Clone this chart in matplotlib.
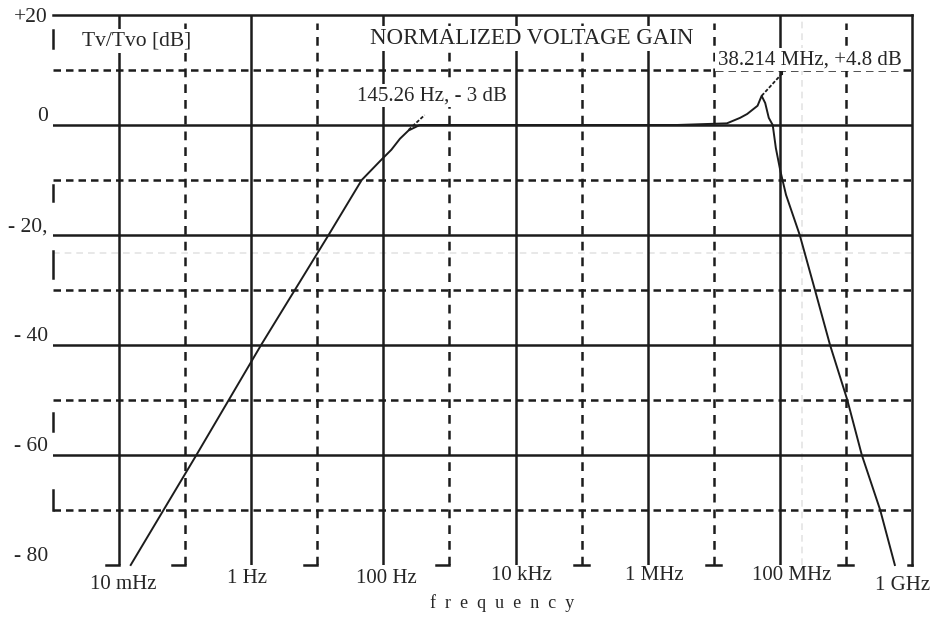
import matplotlib
matplotlib.use('Agg')
import matplotlib.pyplot as plt
from matplotlib.ticker import NullLocator
from matplotlib.transforms import blended_transform_factory

plt.rcParams['font.family'] = ['Liberation Serif', 'DejaVu Serif']

# response curve (Hz, dB)
freq_hz = [0.015, 0.148, 1.41, 14.8, 47, 90, 132, 178, 240, 355, 1e3, 1e4, 1e5,
           2.75e6, 1.58e7, 2.5e7, 3.2e7, 4.6e7, 5.3e7, 6.0e7, 6.8e7, 7.8e7,
           8.7e7, 1.02e8, 1.24e8, 2.0e8, 3.4e8, 5.75e8, 1.05e9, 1.74e9,
           3.3e9, 5.5e9]
gain_db = [-80, -60, -40, -20, -10, -6.5, -4.5, -2.5, -1.0, 0, 0, 0, 0,
           0, 0.3, 1.3, 2.0, 3.5, 5.3, 4.0, 1.3, 0,
           -4.2, -8.4, -12.7, -20, -30, -40, -50, -60,
           -70, -80]

solid_x = [1e-2, 1, 1e2, 1e4, 1e6, 1e8]
dashed_x = [1e-1, 1e1, 1e3, 1e5, 1e7, 1e9]
solid_y = [0, -20, -40, -60]
dashed_y = [10, -10, -30, -50, -70]

y_ticks = [20, 0, -20, -40, -60, -80]
y_labels = ['+20', '0', '- 20,', '- 40', '- 60', '- 80']

x_label_pos = [0.0115, 0.87, 112, 1.23e4, 1.26e6, 1.51e8, 7.1e9]
x_label_db = [-83.6, -82.4, -82.4, -82.0, -82.0, -82.0, -83.8]
x_labels = ['10 mHz', '1 Hz', '100 Hz', '10 kHz', '1 MHz', '100 MHz', '1 GHz']

ink = '#1c1c1c'
txt = '#262626'

fig = plt.figure(figsize=(9.31, 6.18), dpi=100)
ax = fig.add_axes([53 / 931, 1 - 565 / 618, (912 - 53) / 931, (565 - 15) / 618])
ax.set_xscale('log')
ax.set_xlim(1e-3, 1e10)
ax.set_ylim(-80, 20)
ax.xaxis.set_major_locator(NullLocator())
ax.xaxis.set_minor_locator(NullLocator())
ax.yaxis.set_major_locator(NullLocator())
for side in ['left', 'bottom']:
    ax.spines[side].set_visible(False)
for side in ['top', 'right']:
    ax.spines[side].set_linewidth(1.8)
    ax.spines[side].set_color(ink)

# faint scan artifacts
ax.axhline(-23.3, color='#e4e4e4', lw=1.2, ls=(0, (4, 3)), zorder=0)
ax.axvline(2.15e8, color='#e4e4e4', lw=1.2, ls=(0, (4, 3)), zorder=0)

# grid
for x in solid_x:
    ax.plot([x, x], [-80, 20], color=ink, lw=1.8, zorder=1)
for x in dashed_x:
    ax.plot([x, x], [-80, 18.5], color=ink, lw=1.8, ls=(0, (3.5, 2.8)), zorder=1)
for y in solid_y:
    ax.axhline(y, color=ink, lw=1.8, zorder=1)
for y in dashed_y:
    ax.axhline(y, color=ink, lw=1.8, ls=(0, (3, 2)), zorder=1)

# broken left edge
left_marks = [(17.3, 14), (-10.9, -13.8), (-22.9, -27.8), (-52.4, -55.6), (-66.4, -70)]
for top, bot in left_marks:
    ax.plot([1e-3, 1e-3], [top, bot], color=ink, lw=1.8, clip_on=False, zorder=2)

# little feet at the bottom of the vertical lines
for x in [1e-2, 1e-1, 1e1, 1e3]:
    ax.plot([x / 1.6, x], [-80, -80], color=ink, lw=1.8, clip_on=False)
for x in [1e5, 1e7, 1e9]:
    ax.plot([x / 1.3, x * 1.3], [-80, -80], color=ink, lw=1.8, clip_on=False)
ax.plot([1e10 / 1.15, 1e10], [-80, -80], color=ink, lw=1.8, clip_on=False)

# curve
ax.plot(freq_hz, gain_db, color=ink, lw=1.4, clip_on=False, zorder=3)

# leader lines
peak = gain_db.index(max(gain_db))
ax.plot([freq_hz[peak], 1.07e8], [gain_db[peak], 9.3], color=ink, lw=1.3,
        ls=(0, (2, 1)), zorder=3)
ax.plot([1.07e8, 1.07e8], [9.3, 10.2], color=ink, lw=1.5, zorder=3)
ax.plot([240, 420], [-0.9, 1.8], color=ink, lw=1.3, ls=(0, (2, 1)), zorder=3)

box = dict(facecolor='white', edgecolor='none', pad=1.5)
ax.text(0.0187, 15.3, 'Tv/Tvo [dB]', fontsize=15.5, color=txt, ha='center',
        va='center', bbox=box, zorder=4)
ax.text(1.74e4, 15.8, 'NORMALIZED VOLTAGE GAIN', fontsize=16.5, color=txt,
        ha='center', va='center', bbox=box, zorder=4)
ax.text(550, 5.3, '145.26 Hz, - 3 dB', fontsize=15, color=txt, ha='center',
        va='center', bbox=box, zorder=4)
ax.text(2.8e8, 11.9, '38.214 MHz, +4.8 dB', fontsize=15, color=txt,
        ha='center', va='center', bbox=box, zorder=4)

ytr = blended_transform_factory(ax.transAxes, ax.transData)
for v, s in zip(y_ticks, y_labels):
    yy = min(v + 1.5, 19.5)
    ax.text(-0.006, yy, s, transform=ytr, fontsize=15.5, color=txt,
            ha='right', va='center', clip_on=False)

for x, y, s in zip(x_label_pos, x_label_db, x_labels):
    ax.text(x, y, s, fontsize=15, color=txt, ha='center', va='center',
            clip_on=False)

ax.text(6.3e3, -86.9, 'f  r  e  q  u  e  n  c  y', fontsize=13, color=txt,
        ha='center', va='center', clip_on=False)

fig.savefig('out.png', dpi=100, facecolor='white')
